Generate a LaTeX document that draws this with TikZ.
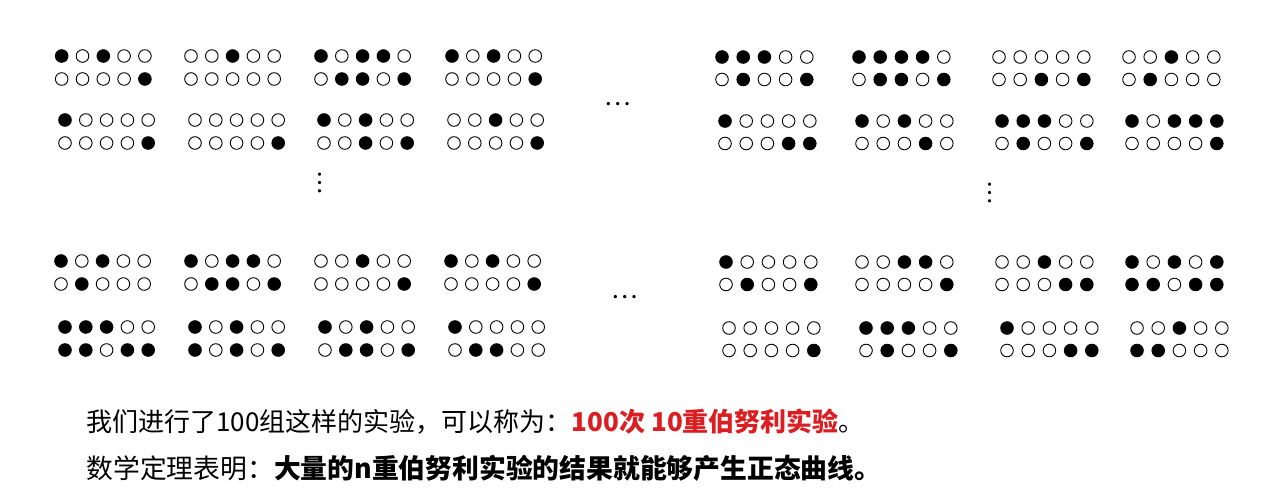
\documentclass[tikz,border=0pt]{standalone}
\usepackage{fontspec}
\setmainfont{Noto Sans CJK SC}
\usepackage{xcolor}
\definecolor{trialred}{RGB}{218,30,34}

\begin{document}
\begin{tikzpicture}[x=1pt,y=-1pt,line width=0.9pt,
    dot0/.style={draw,fill=white},
    dot1/.style={draw,fill=black},
    txt/.style={anchor=base west,inner sep=0pt},
    more/.style={inner sep=0pt,font=\fontsize{25}{30}\selectfont}]

        \useasboundingbox (0,0) rectangle (1280,498);

        % Left trials
        \foreach \x/\y/\t/\b in {
            61.7/56/{1,0,1,0,0}/{0,0,0,0,1}, 191/56/{0,0,1,0,0}/{0,0,0,0,0},
            321/56/{1,0,1,1,0}/{0,1,1,0,1}, 452/56/{1,0,1,0,0}/{0,0,0,0,1},
            65/120/{1,0,0,0,0}/{0,0,0,0,1}, 195/120/{0,0,0,0,0}/{0,0,0,0,1},
            324/120/{1,0,1,0,0}/{0,0,1,0,1}, 454/120/{0,0,1,0,0}/{0,0,0,0,1},
            61/261/{1,0,1,0,0}/{0,1,0,0,0}, 191/261/{1,0,1,1,0}/{0,1,1,0,1},
            321/261/{0,0,1,0,0}/{0,0,0,0,1}, 451/261/{1,0,1,0,0}/{0,0,0,0,1},
            65/327/{1,1,1,0,0}/{1,1,0,1,1}, 195/327/{1,0,1,0,0}/{1,0,1,0,1},
            325/327/{1,0,1,0,0}/{0,1,1,0,1}, 455/327/{1,0,0,0,0}/{0,1,1,0,0}}
        {
          \foreach \d [count=\i from 0] in \t
          \path[dot\d] (\x+\i*20.8,\y) circle (6.3);
          \foreach \d [count=\i from 0] in \b
          \path[dot\d] (\x+\i*20.8,\y+23) circle (6.3);
        }

        % Right trials
        \foreach \x/\y/\t/\b in {
            722/57/{1,1,1,0,0}/{0,1,0,0,1}, 859/57/{1,1,1,1,0}/{0,1,1,0,1},
            999/57/{0,0,0,0,0}/{0,0,1,0,1}, 1129/57/{0,0,1,0,0}/{0,1,0,0,0},
            725/121/{1,0,0,0,0}/{0,0,0,1,1}, 862/121/{1,0,1,0,0}/{0,0,0,1,0},
            1002/121/{1,1,1,0,0}/{0,1,0,0,1}, 1132/121/{1,0,1,1,1}/{0,0,0,0,1},
            726/262/{1,0,0,0,0}/{0,1,0,0,1}, 862/262/{0,0,1,1,0}/{0,0,0,0,1},
            1002/262/{0,0,1,0,0}/{0,0,0,1,1}, 1132/262/{1,0,1,0,1}/{1,1,0,1,1},
            729/328/{0,0,0,0,0}/{0,0,0,0,1}, 866/328/{1,1,1,0,0}/{0,1,0,0,1},
            1007/328/{1,0,0,0,0}/{0,0,0,1,1}, 1137/328/{0,0,1,0,0}/{1,1,0,0,0}}
        {
          \foreach \d [count=\i from 0] in \t
          \path[dot\d] (\x+\i*21.2,\y) circle (6.3);
          \foreach \d [count=\i from 0] in \b
          \path[dot\d] (\x+\i*21.2,\y+22.5) circle (6.3);
        }

        % Ellipses
        \node[more] (moreTop) at (618,104) {…};
        \node[more] (moreBottom) at (625,297) {…};
        \node[more] (moreLeft) at (320,183) {︙};
        \node[more] (moreRight) at (990,193) {︙};

        % Text
        \node[txt,font=\fontsize{26}{30}\selectfont] (line1) at (86,431) {我们进行了100组这样的实验，可以称为：{\bfseries\color{trialred}100次 10重伯努利实验}。};
        \node[txt,font=\fontsize{26.8}{30}\selectfont] (line2) at (86,478) {数学定理表明：{\bfseries 大量的n重伯努利实验的结果就能够产生正态曲线。}};

\end{tikzpicture}
\end{document}
